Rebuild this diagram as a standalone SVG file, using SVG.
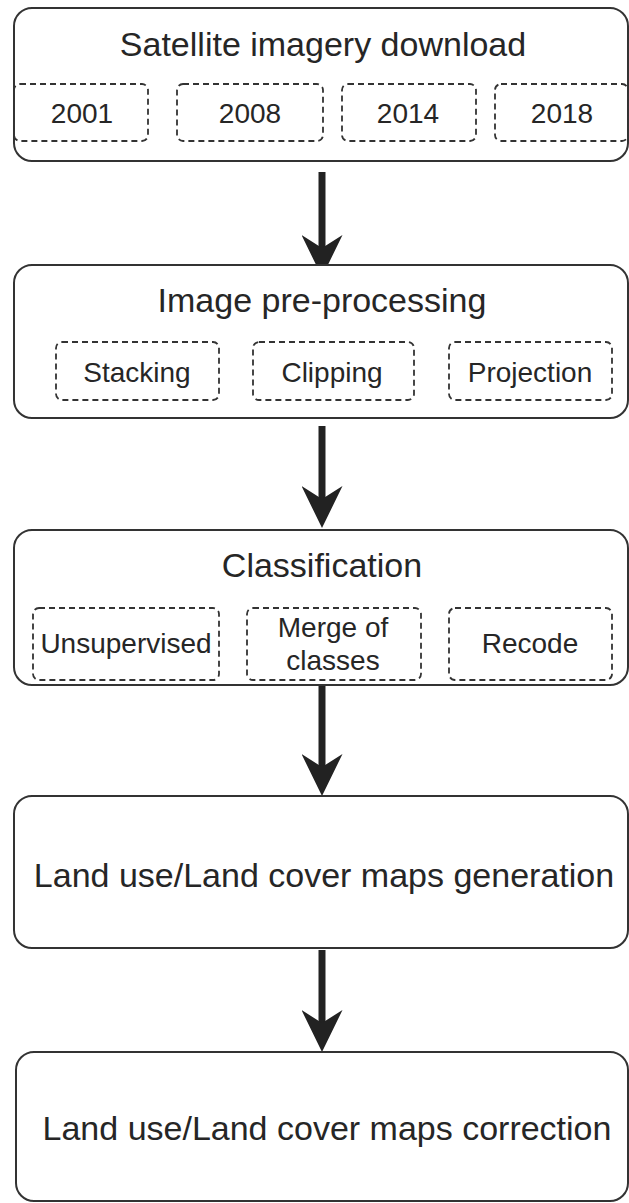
<svg xmlns="http://www.w3.org/2000/svg" width="629" height="1203" viewBox="0 0 629 1203">
<style>
.box{fill:#fff;stroke:#333;stroke-width:2}
.sub{fill:none;stroke:#333;stroke-width:1.8;stroke-dasharray:6 4}
.t{font-family:"Liberation Sans",Arial,sans-serif;fill:#262626;text-anchor:middle}
.title{font-size:34px}
.lbl{font-size:28px}
.conn{stroke:#222;stroke-width:7;fill:none}
</style>
<defs>
<marker id="ah" viewBox="0 0 42 41" refX="13" refY="20.5" markerWidth="42" markerHeight="41" markerUnits="userSpaceOnUse" orient="auto">
<path d="M0,0 L42,20.5 L0,41 L13,20.5 Z" fill="#222"/>
</marker>
</defs>
<rect width="629" height="1203" fill="#fff"/>
<g id="connectors">
<line class="conn" x1="322" y1="172" x2="322" y2="248" marker-end="url(#ah)"/>
<line class="conn" x1="322" y1="426" x2="322" y2="499" marker-end="url(#ah)"/>
<line class="conn" x1="322" y1="686" x2="322" y2="767" marker-end="url(#ah)"/>
<line class="conn" x1="322" y1="950" x2="322" y2="1023" marker-end="url(#ah)"/>
</g>
<g id="node-download">
<rect class="box" x="14" y="8" width="614" height="153" rx="18"/>
<text class="t title" x="323" y="56">Satellite imagery download</text>
<rect class="sub" x="14" y="84" width="134" height="57" rx="6"/>
<text class="t lbl" x="82" y="123">2001</text>
<rect class="sub" x="177" y="84" width="146" height="57" rx="6"/>
<text class="t lbl" x="250" y="123">2008</text>
<rect class="sub" x="342" y="84" width="134" height="57" rx="6"/>
<text class="t lbl" x="408" y="123">2014</text>
<rect class="sub" x="495" y="84" width="133" height="57" rx="6"/>
<text class="t lbl" x="562" y="123">2018</text>
</g>
<g id="node-preprocessing">
<rect class="box" x="14" y="265" width="614" height="153" rx="18"/>
<text class="t title" x="322" y="312">Image pre-processing</text>
<rect class="sub" x="56" y="342" width="163" height="58" rx="6"/>
<text class="t lbl" x="137" y="382">Stacking</text>
<rect class="sub" x="253" y="342" width="161" height="58" rx="6"/>
<text class="t lbl" x="332" y="382">Clipping</text>
<rect class="sub" x="449" y="342" width="163" height="58" rx="6"/>
<text class="t lbl" x="530" y="382">Projection</text>
</g>
<g id="node-classification">
<rect class="box" x="14" y="530" width="614" height="155" rx="18"/>
<text class="t title" x="322" y="577">Classification</text>
<rect class="sub" x="33" y="608" width="186" height="72" rx="6"/>
<text class="t lbl" x="126" y="653">Unsupervised</text>
<rect class="sub" x="247" y="608" width="174" height="72" rx="6"/>
<text class="t lbl" x="333" y="637">Merge of</text>
<text class="t lbl" x="333" y="670">classes</text>
<rect class="sub" x="449" y="608" width="163" height="72" rx="6"/>
<text class="t lbl" x="530" y="653">Recode</text>
</g>
<g id="node-generation">
<rect class="box" x="14" y="796" width="614" height="152" rx="18"/>
<text class="t title" x="324" y="887">Land use/Land cover maps generation</text>
</g>
<g id="node-correction">
<rect class="box" x="16" y="1052" width="612" height="149" rx="18"/>
<text class="t title" x="327" y="1140">Land use/Land cover maps correction</text>
</g>
</svg>
